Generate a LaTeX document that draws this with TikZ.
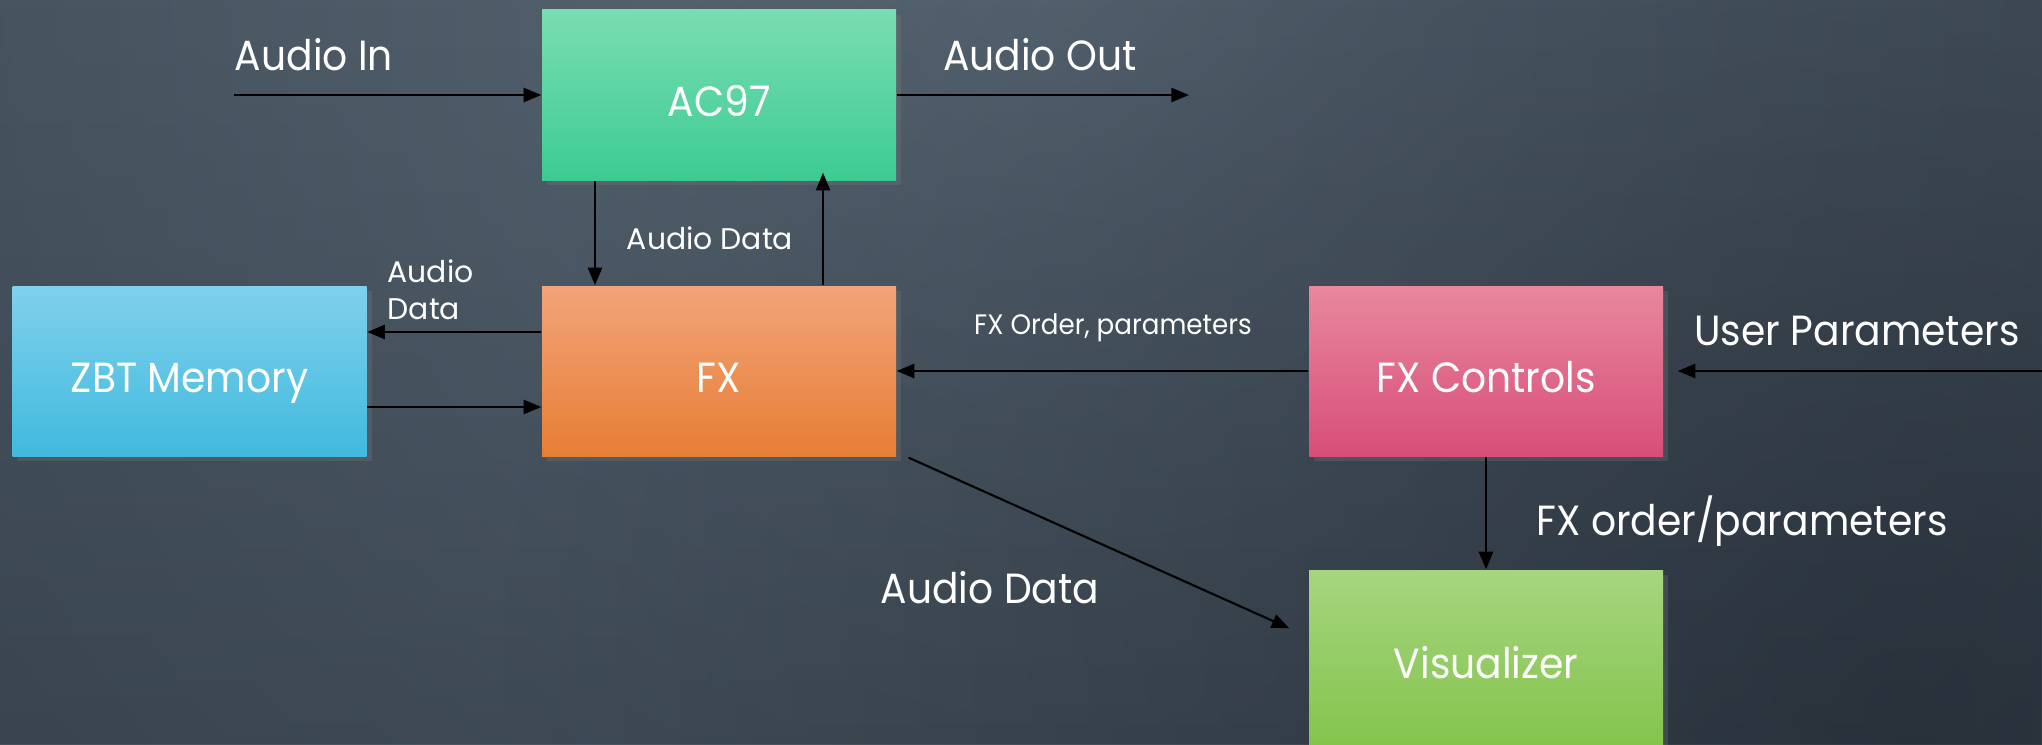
\documentclass[tikz,border=0pt]{standalone}
\usepackage{fontspec}
\setmainfont{Poppins}
\newfontfamily\narrowfont[FakeStretch=0.93]{Poppins}
\usetikzlibrary{arrows.meta,shadows,fadings}
\definecolor{bgin}{RGB}{88,103,116}
\definecolor{bgout}{RGB}{44,54,64}
\definecolor{bgdark}{RGB}{14,18,26}
\definecolor{actop}{RGB}{122,221,178}
\definecolor{acbot}{RGB}{60,203,147}
\definecolor{fxtop}{RGB}{242,163,122}
\definecolor{fxbot}{RGB}{231,126,52}
\definecolor{zbttop}{RGB}{128,208,236}
\definecolor{zbtbot}{RGB}{64,186,222}
\definecolor{fxctop}{RGB}{232,135,158}
\definecolor{fxcbot}{RGB}{216,78,120}
\definecolor{vistop}{RGB}{166,213,128}
\definecolor{visbot}{RGB}{132,196,77}
\tikzfading[name=cornerfade,inner color=transparent!0,outer color=transparent!100]
\tikzfading[name=bottomfade,top color=transparent!100,bottom color=transparent!0]
\tikzset{
  block/.style 2 args={minimum width=3.54cm,minimum height=1.70cm,inner sep=0pt,text height=12pt,text depth=0pt,top color=#1,bottom color=#2,text=white,font=\narrowfont\fontsize{12}{14}\selectfont,drop shadow={shadow xshift=0.05cm,shadow yshift=-0.05cm,opacity=0.25}},
  biglbl/.style={text=white,font=\narrowfont\fontsize{12}{14}\selectfont,inner sep=0pt},
  smalllbl/.style={text=white,font=\fontsize{8.5}{10.5}\selectfont,inner sep=0pt},
  link/.style={-{Triangle[length=5pt,width=4pt]},line width=0.6pt,black}
}
\begin{document}
\begin{tikzpicture}
\useasboundingbox (0,0) rectangle (20.42,7.44);
\begin{scope}
\clip (0,0) rectangle (20.42,7.44);
\fill[bgout] (0,0) rectangle (20.42,7.44);
\shade[inner color=bgin,outer color=bgout] (10.6,7.44) circle (28);
\fill[bgdark,opacity=0.2,path fading=bottomfade] (0,0) rectangle (20.42,7.44);
\fill[bgdark,opacity=0.4,path fading=cornerfade] (19,0.3) circle (14);
\end{scope}
\draw (7.19,6.49) node[block={actop}{acbot}](ac97) {AC97};
\draw (7.19,3.73) node[block={fxtop}{fxbot}](fx) {FX};
\draw (1.895,3.73) node[block={zbttop}{zbtbot}](zbt) {ZBT Memory};
\draw (14.86,3.73) node[block={fxctop}{fxcbot}](fxc) {FX Controls};
\draw (14.86,0.87) node[block={vistop}{visbot},minimum height=1.74cm](vis) {Visualizer};
\coordinate (audioin) at (2.34,6.49);
\coordinate (audioout) at (11.89,6.49);
\coordinate (userin) at (20.42,3.73);
\draw (3.14,6.89) node[biglbl](inlbl) {Audio In};
\draw (10.40,6.89) node[biglbl](outlbl) {Audio Out};
\draw (7.10,5.06) node[smalllbl](datalbl) {Audio Data};
\draw (3.87,4.54) node[smalllbl,anchor=west,align=left](memlbl) {Audio\\Data};
\draw (11.13,4.16) node[smalllbl,font=\narrowfont\fontsize{8}{10}\selectfont](orderlbl) {FX Order, parameters};
\draw (18.57,4.13) node[biglbl](userlbl) {User Parameters};
\draw (17.42,2.23) node[biglbl](vislbl) {FX order/parameters};
\draw (9.90,1.56) node[biglbl](audlbl) {Audio Data};
\draw[link] (audioin) -- (ac97.west);
\draw[link] (ac97.east) -- (audioout);
\draw[link] ([xshift=-1.24cm]ac97.south) -- ([xshift=-1.24cm]fx.north);
\draw[link] ([xshift=1.04cm]fx.north) -- ([xshift=1.04cm,yshift=0.08cm]ac97.south);
\draw[link] ([yshift=0.39cm]fx.west) -- ([yshift=0.39cm]zbt.east);
\draw[link] ([yshift=-0.36cm]zbt.east) -- ([yshift=-0.36cm]fx.west);
\draw[link] (fxc.west) -- (fx.east);
\draw[link] (userin) -- ([xshift=0.14cm]fxc.east);
\draw[link] (fxc.south) -- (vis.north);
\draw[link] ([xshift=0.12cm,yshift=-0.01cm]fx.south east) -- ([xshift=-0.19cm,yshift=-0.59cm]vis.north west);
\end{tikzpicture}
\end{document}
